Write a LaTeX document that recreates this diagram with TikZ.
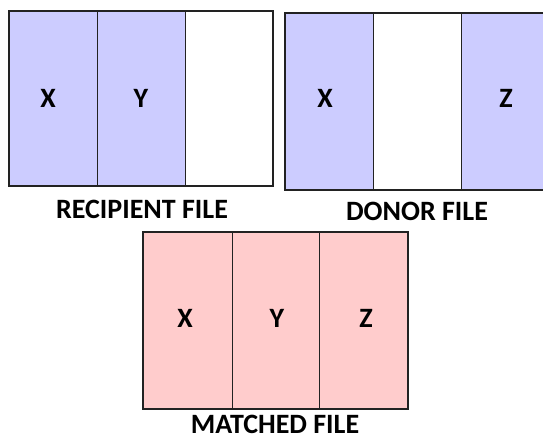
\documentclass[tikz,border=0pt]{standalone}
\usepackage{fontspec}
\setmainfont{Carlito}
\definecolor{fileblue}{HTML}{CCCCFF}
\definecolor{filepink}{HTML}{FFCCCC}
\definecolor{edge}{HTML}{222222}
\begin{document}
\begin{tikzpicture}[x=0.75pt,y=-0.75pt,
  frame/.style={draw=edge,line width=1.1pt},
  divider/.style={draw=edge,line width=0.7pt},
  letter/.style={font=\bfseries\fontsize{21}{25}\selectfont,inner sep=0pt},
  caption/.style={font=\bfseries\fontsize{21}{25}\selectfont,inner sep=0pt}]
\useasboundingbox (0,0) rectangle (543,436);
\clip (0,0) rectangle (543,436);

% recipient file: X, Y filled, third column empty
\fill[fileblue] (9,11) rectangle (185,186);
\draw[frame] (9,11) rectangle (273,186);
\draw[divider] (97,11) -- (97,186) (185,11) -- (185,186);
\node[letter] (rx) at (48,98) {X};
\node[letter] (ry) at (141,98) {Y};
\node[caption] (rcap) at (142,209) {RECIPIENT FILE};

% donor file: X and Z filled, middle column empty
\fill[fileblue] (285,13) rectangle (373,190);
\fill[fileblue] (461,13) rectangle (549,190);
\draw[frame] (285,13) rectangle (549,190);
\draw[divider] (373,13) -- (373,190) (461,13) -- (461,190);
\node[letter] (dx) at (325,98) {X};
\node[letter] (dz) at (506,98) {Z};
\node[caption] (dcap) at (417,211) {DONOR FILE};

% matched file: all three columns
\fill[filepink] (143,232) rectangle (408,409);
\draw[frame] (143,232) rectangle (408,409);
\draw[divider] (232,232) -- (232,409) (319,232) -- (319,409);
\node[letter] (mx) at (185,318) {X};
\node[letter] (my) at (277,318) {Y};
\node[letter] (mz) at (366,318) {Z};
\node[caption] (mcap) at (275,424) {MATCHED FILE};
\end{tikzpicture}
\end{document}
